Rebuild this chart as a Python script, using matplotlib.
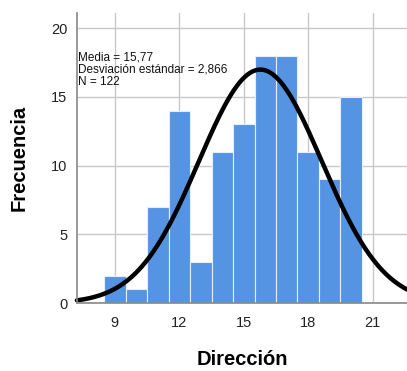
import numpy as np
import matplotlib
matplotlib.use("Agg")
import matplotlib.pyplot as plt

plt.rcParams['font.family'] = ['Liberation Sans', 'DejaVu Sans']

bin_left = [8.5, 9.5, 10.5, 11.5, 12.5, 13.5, 14.5, 15.5, 16.5, 17.5, 18.5, 19.5]
counts = [2, 1, 7, 14, 3, 11, 13, 18, 18, 11, 9, 15]
bin_width = 1.0
mean = 15.77
sd = 2.866
n = 122
xticks = [9, 12, 15, 18, 21]
yticks = [0, 5, 10, 15, 20]

fig = plt.figure(figsize=(4.07, 3.71), dpi=100)
ax = fig.add_axes([0.189, 0.183, 0.811, 0.782])

ax.set_xlim(7.23, 22.6)
ax.set_ylim(0, 21.1)
ax.set_axisbelow(True)
ax.grid(True, color='#c8c8c8', linewidth=1.0)

ax.bar(bin_left, counts, width=bin_width, align='edge', color='#5594e2',
       edgecolor='#e6eefa', linewidth=0.8)

xs = np.linspace(7.23, 22.6, 400)
ys = n * bin_width / (sd * np.sqrt(2 * np.pi)) * np.exp(-0.5 * ((xs - mean) / sd) ** 2)
ax.plot(xs, ys, color='black', linewidth=3.2, solid_capstyle='round', clip_on=False)

ax.set_xticks(xticks)
ax.set_yticks(yticks)
ax.tick_params(axis='x', length=0, labelsize=10.5, labelcolor='#222222', pad=9)
ax.tick_params(axis='y', length=0, labelsize=10.5, labelcolor='#222222', pad=7)
for s in ['top', 'right']:
    ax.spines[s].set_visible(False)
ax.spines['left'].set_color('#888888')
ax.spines['bottom'].set_color('#888888')
ax.spines['left'].set_linewidth(1.2)
ax.spines['bottom'].set_linewidth(1.2)

ax.text(0.003, 0.868, "Media = 15,77\nDesviación estándar = 2,866\nN = 122",
        transform=ax.transAxes, fontsize=8.5, va='top', ha='left',
        linespacing=1.05, color='#111111')

ax.set_xlabel("Dirección", fontsize=14.5, fontweight='bold', labelpad=15)
ax.set_ylabel("Frecuencia", fontsize=14.5, fontweight='bold', labelpad=16)

fig.savefig("out.png", dpi=100)
